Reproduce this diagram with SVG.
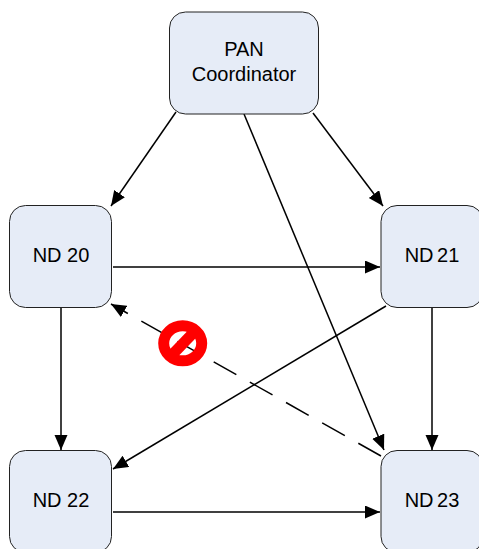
<svg xmlns="http://www.w3.org/2000/svg" width="479" height="549" viewBox="0 0 479 549">
<style>
.n{fill:#e6ecf7;stroke:#222;stroke-width:1}
.t{font-family:"Liberation Sans",Arial,sans-serif;font-size:20px;fill:#000;text-anchor:middle}
.c{fill:none;stroke:#000;stroke-width:1.500;marker-end:url(#a)}
</style>
<defs>
<marker id="a" markerUnits="userSpaceOnUse" markerWidth="18" markerHeight="14" refX="15" refY="6.500" orient="auto"><path d="M0 0L15 6.500L0 13z" fill="#000"/></marker>
</defs>
<g id="connectors">
<path class="c" d="M176 112L111 206"/>
<path class="c" d="M313 113L383 206"/>
<path class="c" d="M244 114L384 450"/>
<path class="c" d="M113 267L380 267"/>
<path class="c" d="M61 307L61 450"/>
<path class="c" d="M432 307L432 450"/>
<path class="c" d="M386 306L113 469"/>
<path class="c" d="M113 512L380 512"/>
<path class="c" stroke-dasharray="26 15.500" d="M381 456L111 304"/>
</g>
<g id="pan"><rect class="n" x="169.500" y="12" width="149" height="102" rx="16"/><text class="t" x="244" y="56">PAN</text><text class="t" x="244" y="81">Coordinator</text></g>
<g id="nd20"><rect class="n" x="9.500" y="205.500" width="102" height="102" rx="16"/><text class="t" x="61" y="262">ND 20</text></g>
<g id="nd21"><rect class="n" x="381" y="205.500" width="102" height="102" rx="16"/><text class="t" x="432" y="262" word-spacing="-2">ND 21</text></g>
<g id="nd22"><rect class="n" x="9.500" y="450.500" width="102" height="102" rx="16"/><text class="t" x="61" y="507">ND 22</text></g>
<g id="nd23"><rect class="n" x="381" y="450.500" width="102" height="102" rx="16"/><text class="t" x="432" y="507" word-spacing="-2">ND 23</text></g>
<g id="prohibited" fill="none" stroke="#f00">
<ellipse cx="182.700" cy="343.300" rx="19" ry="17.500" stroke-width="11"/>
<path d="M170 357L196 330" stroke-width="11"/>
</g>
</svg>
